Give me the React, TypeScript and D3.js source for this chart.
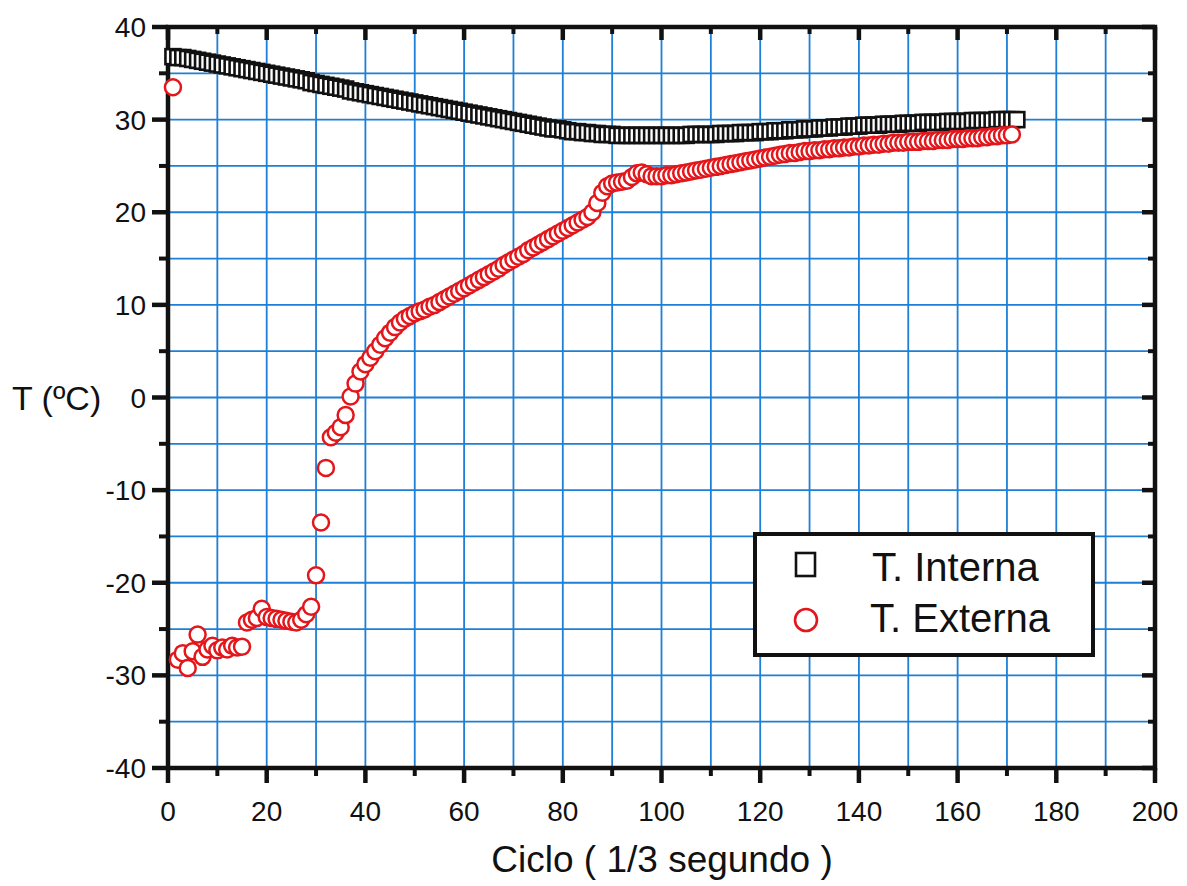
import * as d3 from 'd3'

// Temperatures, one point per cycle
const cyclesInterna = d3.range(1, 173)
const tInterna = [
  36.8, 36.7, 36.7, 36.6, 36.5, 36.4, 36.3, 36.2, 36.1, 36.0,
  35.9, 35.8, 35.7, 35.6, 35.5, 35.4, 35.3, 35.2, 35.1, 35.0,
  34.9, 34.8, 34.7, 34.6, 34.5, 34.4, 34.3, 34.2, 34.0, 33.9,
  33.8, 33.7, 33.6, 33.5, 33.4, 33.3, 33.1, 33.0, 32.9, 32.8,
  32.7, 32.6, 32.5, 32.4, 32.3, 32.2, 32.1, 32.0, 31.9, 31.8,
  31.7, 31.6, 31.5, 31.4, 31.3, 31.2, 31.1, 31.0, 30.9, 30.8,
  30.7, 30.6, 30.5, 30.4, 30.3, 30.2, 30.1, 30.0, 29.9, 29.8,
  29.7, 29.6, 29.5, 29.4, 29.3, 29.2, 29.1, 29.0, 29.0, 28.9,
  28.8, 28.7, 28.7, 28.6, 28.6, 28.5, 28.5, 28.4, 28.4, 28.4,
  28.3, 28.3, 28.3, 28.3, 28.3, 28.3, 28.3, 28.3, 28.3, 28.3,
  28.3, 28.3, 28.3, 28.3, 28.3, 28.4, 28.4, 28.4, 28.4, 28.4,
  28.4, 28.5, 28.5, 28.5, 28.5, 28.6, 28.6, 28.6, 28.6, 28.7,
  28.7, 28.7, 28.8, 28.8, 28.8, 28.9, 28.9, 28.9, 29.0, 29.0,
  29.0, 29.1, 29.1, 29.1, 29.2, 29.2, 29.2, 29.3, 29.3, 29.3,
  29.4, 29.4, 29.4, 29.4, 29.5, 29.5, 29.5, 29.5, 29.6, 29.6,
  29.6, 29.6, 29.7, 29.7, 29.7, 29.7, 29.7, 29.8, 29.8, 29.8,
  29.8, 29.8, 29.9, 29.9, 29.9, 29.9, 29.9, 30.0, 30.0, 30.0,
  30.0, 30.0,
]

const cyclesExterna = d3.range(1, 172)
const tExterna = [
  33.5, -28.3, -27.6, -29.2, -27.4, -25.6, -28.0, -27.2, -26.8, -27.3,
  -27.0, -27.2, -26.8, -27.0, -26.9, -24.3, -24.0, -23.8, -22.8, -23.7,
  -23.8, -23.9, -24.0, -24.1, -24.2, -24.3, -24.0, -23.4, -22.6, -19.2,
  -13.5, -7.6, -4.3, -3.8, -3.2, -1.9, 0.1, 1.5, 2.8, 3.6,
  4.3, 5.0, 5.7, 6.4, 7.0, 7.6, 8.1, 8.5, 8.8, 9.1,
  9.3, 9.5, 9.8, 10.0, 10.3, 10.6, 10.9, 11.2, 11.5, 11.8,
  12.1, 12.4, 12.7, 13.0, 13.3, 13.6, 13.9, 14.3, 14.6, 14.9,
  15.2, 15.5, 15.9, 16.2, 16.5, 16.8, 17.1, 17.4, 17.7, 18.0,
  18.3, 18.6, 18.9, 19.2, 19.5, 20.0, 21.0, 22.1, 22.8, 23.1,
  23.2, 23.3, 23.4, 23.8, 24.2, 24.3, 24.1, 23.9, 23.9, 23.9,
  24.0, 24.0, 24.1, 24.2, 24.3, 24.4, 24.5, 24.6, 24.7, 24.8,
  24.9, 25.0, 25.1, 25.2, 25.3, 25.4, 25.5, 25.6, 25.7, 25.8,
  25.9, 26.0, 26.1, 26.2, 26.3, 26.4, 26.4, 26.5, 26.6, 26.6,
  26.7, 26.7, 26.8, 26.8, 26.9, 26.9, 27.0, 27.0, 27.1, 27.1,
  27.2, 27.2, 27.3, 27.3, 27.4, 27.4, 27.5, 27.5, 27.5, 27.6,
  27.6, 27.6, 27.7, 27.7, 27.7, 27.8, 27.8, 27.8, 27.9, 27.9,
  27.9, 28.0, 28.0, 28.0, 28.1, 28.1, 28.2, 28.2, 28.3, 28.3,
  28.4,
]

const xTickLabels = ['0', '20', '40', '60', '80', '100', '120', '140', '160', '180', '200']
const yTickLabels = ['-40', '-30', '-20', '-10', '0', '10', '20', '30', '40']
const seriesNames = ['T. Interna', 'T. Externa']

const W = 1187
const H = 886
const left = 168, right = 1155, top = 27, bottom = 768
const font = '"Liberation Sans", Arial, sans-serif'
const gridBlue = '#1d7fd6'
const red = '#e3161b'
const ink = '#111'

export default function App() {
  const x = d3.scaleLinear().domain([0, 200]).range([left, right])
  const y = d3.scaleLinear().domain([-40, 40]).range([bottom, top])

  const xGrid = d3.range(10, 200, 10)
  const yGrid = d3.range(-35, 40, 5)
  const xMinor = d3.range(10, 200, 20)
  const yMinor = d3.range(-35, 40, 10)

  const interna = cyclesInterna.map((c, i) => ({ c, t: tInterna[i] }))
  const externa = cyclesExterna.map((c, i) => ({ c, t: tExterna[i] }))

  const sq = 15
  return (
    <svg width={W} height={H} style={{ position: 'absolute', left: 0, top: 0, background: '#fff' }}>
      {/* grid */}
      {xGrid.map(v => (
        <line key={'gx' + v} x1={x(v)} x2={x(v)} y1={top} y2={bottom} stroke={gridBlue} strokeWidth={1.8} />
      ))}
      {yGrid.map(v => (
        <line key={'gy' + v} x1={left} x2={right} y1={y(v)} y2={y(v)} stroke={gridBlue} strokeWidth={1.8} />
      ))}

      {/* ticks: outward on left/bottom, inward on top/right */}
      {xTickLabels.map(l => {
        const v = +l
        return (
          <g key={'xt' + l}>
            <line x1={x(v)} x2={x(v)} y1={bottom} y2={bottom + 15} stroke={ink} strokeWidth={4.5} />
            <line x1={x(v)} x2={x(v)} y1={top} y2={top + 13} stroke={ink} strokeWidth={4.5} />
            <text x={x(v)} y={821} textAnchor="middle" fontFamily={font} fontSize={28} fill={ink}>{l}</text>
          </g>
        )
      })}
      {xMinor.map(v => (
        <g key={'xm' + v}>
          <line x1={x(v)} x2={x(v)} y1={bottom} y2={bottom + 8} stroke={ink} strokeWidth={4} />
          <line x1={x(v)} x2={x(v)} y1={top} y2={top + 7} stroke={ink} strokeWidth={4} />
        </g>
      ))}
      {yTickLabels.map(l => {
        const v = +l
        return (
          <g key={'yt' + l}>
            <line x1={left - 16} x2={left} y1={y(v)} y2={y(v)} stroke={ink} strokeWidth={4.5} />
            <line x1={right - 13} x2={right} y1={y(v)} y2={y(v)} stroke={ink} strokeWidth={4.5} />
            <text x={146} y={y(v)} dy="0.36em" textAnchor="end" fontFamily={font} fontSize={28} fill={ink}>{l}</text>
          </g>
        )
      })}
      {yMinor.map(v => (
        <g key={'ym' + v}>
          <line x1={left - 9} x2={left} y1={y(v)} y2={y(v)} stroke={ink} strokeWidth={4} />
          <line x1={right - 7} x2={right} y1={y(v)} y2={y(v)} stroke={ink} strokeWidth={4} />
        </g>
      ))}

      {/* frame */}
      <rect x={left} y={top} width={right - left} height={bottom - top} fill="none" stroke={ink} strokeWidth={4.5} />

      {/* series */}
      {interna.map(d => (
        <rect key={'i' + d.c} x={x(d.c) - sq / 2} y={y(d.t) - sq / 2} width={sq} height={sq}
          fill="#fff" stroke={ink} strokeWidth={2.6} />
      ))}
      {externa.map(d => (
        <circle key={'e' + d.c} cx={x(d.c)} cy={y(d.t)} r={8} fill="#fff" stroke={red} strokeWidth={2.5} />
      ))}

      {/* axis titles */}
      <text x={662} y={872} textAnchor="middle" fontFamily={font} fontSize={37} fill={ink}>Ciclo ( 1/3 segundo )</text>
      <text x={12} y={398} dy="0.36em" fontFamily={font} fontSize={34} fill={ink}>T (ºC)</text>

      {/* legend */}
      <g>
        <rect x={755} y={534} width={338} height={121} fill="#fff" stroke={ink} strokeWidth={4} />
        <rect x={796} y={553} width={19} height={23} fill="#fff" stroke={ink} strokeWidth={2.6} />
        <circle cx={806} cy={620} r={11} fill="#fff" stroke={red} strokeWidth={2.6} />
        <text x={872} y={581} fontFamily={font} fontSize={40} fill={ink}>{seriesNames[0]}</text>
        <text x={870} y={632} fontFamily={font} fontSize={40} fill={ink}>{seriesNames[1]}</text>
      </g>
    </svg>
  )
}
